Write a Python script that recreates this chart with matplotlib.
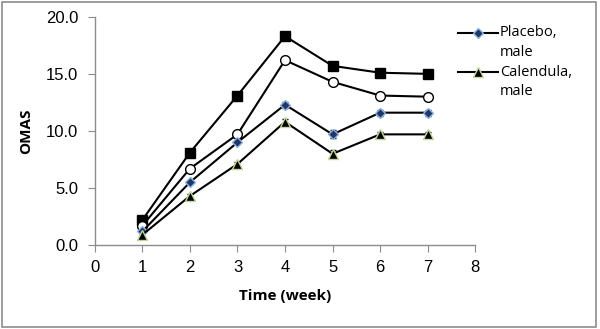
import matplotlib
matplotlib.use('Agg')
import matplotlib.pyplot as plt
from matplotlib.patches import Rectangle
from matplotlib.lines import Line2D

plt.rcParams['font.family'] = ['Open Sans', 'DejaVu Sans']

weeks = [1, 2, 3, 4, 5, 6, 7]
square_vals = [2.2, 8.1, 13.1, 18.3, 15.7, 15.1, 15.0]
circle_vals = [1.7, 6.7, 9.7, 16.2, 14.3, 13.1, 13.0]
placebo_male = [1.2, 5.5, 9.0, 12.3, 9.7, 11.6, 11.6]
calendula_male = [0.9, 4.3, 7.1, 10.8, 8.0, 9.7, 9.7]
err = [0.15, 0.15, 0.15, 0.25, 0.35, 0.25, 0.25]

x_ticks = [0, 1, 2, 3, 4, 5, 6, 7, 8]
y_ticks = [0.0, 5.0, 10.0, 15.0, 20.0]
legend_labels = [['Placebo,', 'male'], ['Calendula,', 'male']]

W, H = 600, 329
fig = plt.figure(figsize=(6, 3.29), dpi=100)
ax = fig.add_axes([0.158, 0.255, 0.634, 0.694])

# border around the whole picture
fig.patches.append(Rectangle((0.003, 0.005), 0.99, 0.99, transform=fig.transFigure,
                             fill=False, edgecolor='#8c8c8c', linewidth=1.2))

eb = dict(ecolor='black', elinewidth=0.6, capsize=2.5, capthick=0.6)
ax.errorbar(weeks, square_vals, yerr=err, color='black', lw=1.5, marker='s', ms=7,
            mfc='black', mec='black', **eb)
ax.errorbar(weeks, circle_vals, yerr=err, color='black', lw=1.5, marker='o', ms=7,
            mfc='white', mec='black', **eb)
ax.errorbar(weeks, placebo_male, yerr=err, color='black', lw=1.5, marker='D', ms=5.5,
            mfc='#1f3864', mec='#8db4e2', mew=1, **eb)
ax.errorbar(weeks, calendula_male, yerr=err, color='black', lw=1.5, marker='^', ms=7,
            mfc='black', mec='#c4d79b', mew=1, **eb)

ax.set_xlim(0, 8)
ax.set_ylim(0, 20)
ax.set_xticks(x_ticks)
ax.set_yticks(y_ticks)
ax.set_yticklabels(['%.1f' % v for v in y_ticks])
ax.tick_params(axis='both', labelsize=12, color='#8c8c8c', length=5, direction='out')
ax.tick_params(axis='y', pad=7)
ax.tick_params(axis='x', pad=6)
for t in ax.get_xticklabels() + ax.get_yticklabels():
    t.set_family('Liberation Sans')
for s in ['top', 'right']:
    ax.spines[s].set_visible(False)
for s in ['left', 'bottom']:
    ax.spines[s].set_color('#8c8c8c')
    ax.spines[s].set_linewidth(1)

ax.set_xlabel('Time (week)', fontsize=11, fontweight='bold', labelpad=10)
ax.set_ylabel('OMAS', fontsize=11, fontweight='bold', labelpad=9)

# legend drawn by hand: handle sits on the first text line, like Excel
styles = [dict(marker='D', ms=5, mfc='#1f3864', mec='#8db4e2'),
          dict(marker='^', ms=6.5, mfc='black', mec='#c4d79b')]
for i, (lab, st) in enumerate(zip(legend_labels, styles)):
    y0 = 33 + 39 * i
    fig.add_artist(Line2D([458 / W, 498 / W], [1 - y0 / H] * 2, color='black', lw=1.5,
                          transform=fig.transFigure))
    fig.add_artist(Line2D([478 / W], [1 - y0 / H], color='black', lw=0,
                          transform=fig.transFigure, **st))
    for j, line in enumerate(lab):
        fig.text(500 / W, 1 - (y0 + 20 * j) / H, line, fontsize=10.5, va='center', ha='left')

fig.savefig('out.png', dpi=100)
